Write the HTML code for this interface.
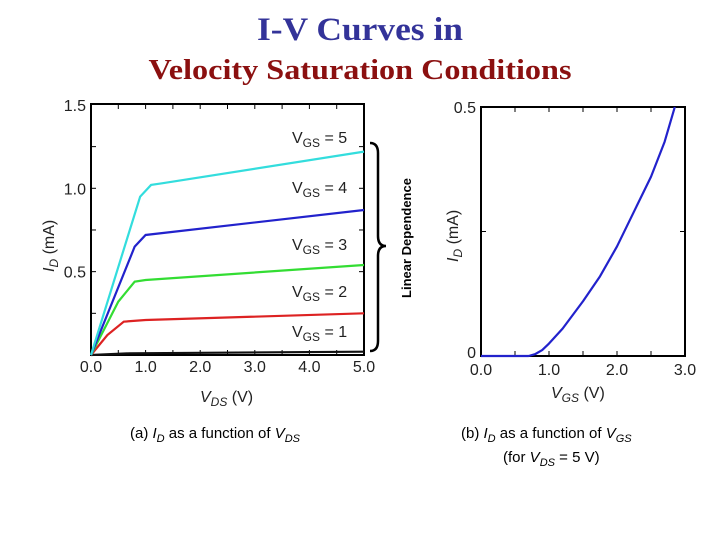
<!DOCTYPE html>
<html><head><meta charset="utf-8"><style>
body{margin:0;background:#fff;}
svg{display:block;font-family:"Liberation Sans",Arial,sans-serif;}
</style></head><body>
<svg id="s" width="720" height="540" viewBox="0 0 720 540" xmlns="http://www.w3.org/2000/svg">
<text x="360" y="40" text-anchor="middle" font-family="Liberation Serif,serif" font-weight="bold" font-size="33" fill="#333399" textLength="206" lengthAdjust="spacingAndGlyphs">I-V Curves in</text>
<text x="360" y="79" text-anchor="middle" font-family="Liberation Serif,serif" font-weight="bold" font-size="28" fill="#8b1010" textLength="423" lengthAdjust="spacingAndGlyphs">Velocity Saturation Conditions</text>
<g id="left"></g>
<g id="right"></g>
<path d="M370 143 Q378 143 378 153 L378 236 Q378 246 386 246 Q378 246 378 256 L378 341 Q378 351 370 351" fill="none" stroke="#000" stroke-width="2.5"/>
<text transform="translate(411,238) rotate(-90)" text-anchor="middle" font-size="13" font-weight="bold">Linear Dependence</text>
<text x="130" y="438" font-size="15">(a) <tspan font-style="italic">I</tspan><tspan font-style="italic" font-size="11" dy="4">D</tspan><tspan dy="-4"> as a function of </tspan><tspan font-style="italic">V</tspan><tspan font-style="italic" font-size="11" dy="4">DS</tspan></text>
<text x="461" y="438" font-size="15">(b) <tspan font-style="italic">I</tspan><tspan font-style="italic" font-size="11" dy="4">D</tspan><tspan dy="-4"> as a function of </tspan><tspan font-style="italic">V</tspan><tspan font-style="italic" font-size="11" dy="4">GS</tspan></text>
<text x="503" y="462" font-size="15">(for <tspan font-style="italic">V</tspan><tspan font-style="italic" font-size="11" dy="4">DS</tspan><tspan dy="-4"> = 5 V)</tspan></text>
</svg>
<script>
const NS="http://www.w3.org/2000/svg";
const curveLabels=["VGS = 1","VGS = 2","VGS = 3","VGS = 4","VGS = 5"];
const curveColors=["#111111","#dd2222","#33dd33","#2222cc","#33dddd"];
const vds1=[0,0.7,5];const id1=[0,0.01,0.02];
const vds2=[0,0.3,0.6,1.0,5];const id2=[0,0.12,0.2,0.21,0.25];
const vds3=[0,0.5,0.8,1.0,5];const id3=[0,0.32,0.44,0.45,0.54];
const vds4=[0,0.8,1.0,5];const id4=[0,0.65,0.72,0.87];
const vds5=[0,0.9,1.1,1.3,5];const id5=[0,0.95,1.02,1.03,1.22];
const leftXTicks=[0,1,2,3,4,5];const leftXTickLabels=["0.0","1.0","2.0","3.0","4.0","5.0"];
const leftYTicks=[0.5,1.0,1.5];const leftYTickLabels=["0.5","1.0","1.5"];
const vgsB=[0,0.7,0.8,0.9,1.0,1.2,1.5,1.75,2.0,2.25,2.5,2.7,2.85];
const idB=[0,0,0.004,0.012,0.025,0.055,0.11,0.16,0.22,0.29,0.36,0.43,0.5];
const rightXTicks=[0,1,2,3];const rightXTickLabels=["0.0","1.0","2.0","3.0"];
const rightYTicks=[0,0.5];const rightYTickLabels=["0","0.5"];

function mk(t,a,p){const e=document.createElementNS(NS,t);for(const k in a)e.setAttribute(k,a[k]);p.appendChild(e);return e;}
const L=document.getElementById('left');
const lx=v=>91+v*54.6, ly=v=>355-v*166.7;
const lf=mk('rect',{x:91,y:104,width:273,height:251,fill:'none',stroke:'#000','stroke-width':2},L);


for(let i=0;i<=10;i++){const v=i*0.5;mk('line',{x1:lx(v),x2:lx(v),y1:355,y2:350,stroke:'#000'},L);mk('line',{x1:lx(v),x2:lx(v),y1:104,y2:109,stroke:'#000'},L);}
for(let i=1;i<6;i++){const v=i*0.25;mk('line',{x1:91,x2:96,y1:ly(v),y2:ly(v),stroke:'#000'},L);mk('line',{x1:364,x2:359,y1:ly(v),y2:ly(v),stroke:'#000'},L);}
leftXTicks.forEach((v,i)=>{const t=mk('text',{x:lx(v),y:372,'text-anchor':'middle','font-size':16,fill:'#222'},L);t.textContent=leftXTickLabels[i];

});
leftYTicks.forEach((v,i)=>{const t=mk('text',{x:86,y:ly(v)+6,'text-anchor':'end','font-size':16,fill:'#222'},L);t.textContent=leftYTickLabels[i];

});
const xs=[vds1,vds2,vds3,vds4,vds5],ys=[id1,id2,id3,id4,id5];
xs.forEach((xa,k)=>{const p=mk('polyline',{points:xa.map((v,i)=>lx(v)+','+ly(ys[k][i])).join(' '),fill:'none',stroke:curveColors[k],'stroke-width':2.2},L);

});
const labY=[337,297,250,193,143];
curveLabels.forEach((s,k)=>{const t=mk('text',{x:292,y:labY[k],'font-size':16,fill:'#222'},L);t.innerHTML='V<tspan font-size="12" dy="4">GS</tspan><tspan dy="-4"> = '+(k+1)+'</tspan>';

});
let t=mk('text',{x:200,y:402,'font-size':16,fill:'#222'},L);t.innerHTML='<tspan font-style="italic">V</tspan><tspan font-style="italic" font-size="12" dy="4">DS</tspan><tspan dy="-4"> (V)</tspan>';


t=mk('text',{transform:'translate(54,272) rotate(-90)','font-size':16,fill:'#222'},L);t.innerHTML='<tspan font-style="italic">I</tspan><tspan font-style="italic" font-size="12" dy="4">D</tspan><tspan dy="-4"> (mA)</tspan>';


const R=document.getElementById('right');
const rx=v=>481+v*68, ry=v=>356-v*498;
const rf=mk('rect',{x:481,y:107,width:204,height:249,fill:'none',stroke:'#000','stroke-width':2},R);


for(let i=0;i<=6;i++){const v=i*0.5;mk('line',{x1:rx(v),x2:rx(v),y1:356,y2:351,stroke:'#000'},R);mk('line',{x1:rx(v),x2:rx(v),y1:107,y2:112,stroke:'#000'},R);}
mk('line',{x1:481,x2:486,y1:ry(0.25),y2:ry(0.25),stroke:'#000'},R);mk('line',{x1:685,x2:680,y1:ry(0.25),y2:ry(0.25),stroke:'#000'},R);
rightXTicks.forEach((v,i)=>{const t=mk('text',{x:rx(v),y:375,'text-anchor':'middle','font-size':16,fill:'#222'},R);t.textContent=rightXTickLabels[i];

});
rightYTicks.forEach((v,i)=>{const t=mk('text',{x:476,y:ry(v)+(v?6:2),'text-anchor':'end','font-size':16,fill:'#222'},R);t.textContent=rightYTickLabels[i];

});
const pb=mk('polyline',{points:vgsB.map((v,i)=>rx(v)+','+ry(idB[i])).join(' '),fill:'none',stroke:'#2222cc','stroke-width':2.2,'stroke-linejoin':'round'},R);


t=mk('text',{x:551,y:398,'font-size':16,fill:'#222'},R);t.innerHTML='<tspan font-style="italic">V</tspan><tspan font-style="italic" font-size="12" dy="4">GS</tspan><tspan dy="-4"> (V)</tspan>';


t=mk('text',{transform:'translate(458,262) rotate(-90)','font-size':16,fill:'#222'},R);t.innerHTML='<tspan font-style="italic">I</tspan><tspan font-style="italic" font-size="12" dy="4">D</tspan><tspan dy="-4"> (mA)</tspan>';


</script>
</body></html>
